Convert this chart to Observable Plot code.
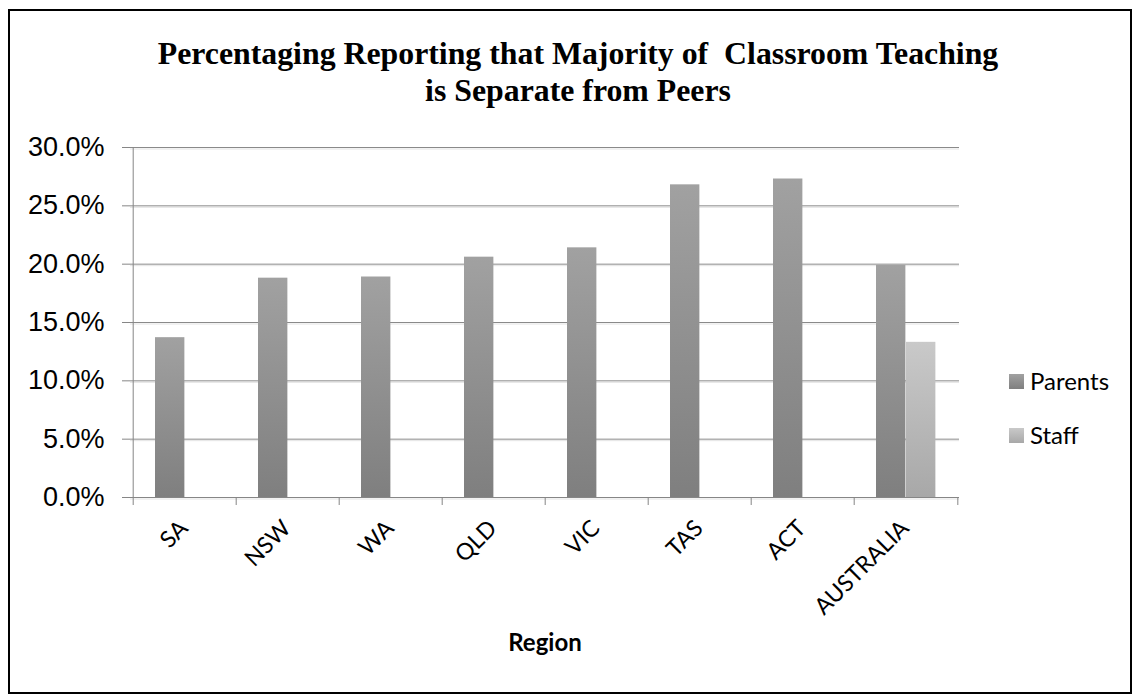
<!DOCTYPE html>
<html>
<head>
<meta charset="utf-8">
<script src="https://cdn.jsdelivr.net/npm/d3@7"></script>
<script src="https://cdn.jsdelivr.net/npm/@observablehq/plot@0.6"></script>
<style>
  html, body { margin: 0; padding: 0; background: #fff; }
  #wrap { position: relative; width: 1138px; height: 700px; overflow: hidden; background: #fff; }
  #border { position: absolute; left: 8px; top: 9px; width: 1124px; height: 685px; border: 2px solid #000; box-sizing: border-box; pointer-events: none; }
  #title { position: absolute; left: 20px; width: 1116px; top: 35px; text-align: center;
           font-family: "Liberation Serif", "Times New Roman", serif; font-weight: bold; font-size: 31.8px; line-height: 37px; color: #000; white-space: pre; }
  #chart { position: absolute; left: 0; top: 0; }
  .leg-sw { position: absolute; width: 15px; height: 15px; }
  .leg-tx { position: absolute; font-family: Lato, "Open Sans", sans-serif; font-size: 24px; line-height: 30px; color: #000; }
</style>
</head>
<body>
<div id="wrap">
  <div id="title"></div>
  <div id="chart"></div>
  <div id="legend"></div>
  <div id="border"></div>
</div>
<script>
// ---- data ----
const titleLines = ["Percentaging Reporting that Majority of  Classroom Teaching", "is Separate from Peers"];
const regions = ["SA", "NSW", "WA", "QLD", "VIC", "TAS", "ACT", "AUSTRALIA"];
const parentsValues = [13.7, 18.8, 18.9, 20.6, 21.4, 26.8, 27.3, 19.9];
const staffRegions = ["AUSTRALIA"];
const staffValues = [13.3];
const seriesNames = ["Parents", "Staff"];
const yTicks = [0, 5, 10, 15, 20, 25, 30];
const xTitle = "Region";

// ---- layout ----
const W = 1138, H = 700;
const mL = 130, mR = 179, mT = 147, mB = 203;
const step = (W - mL - mR) / regions.length;
const barW = 30, offL = 22;
const axisColor = "#868686";

const parentsData = regions.map((r, i) => ({region: r, value: parentsValues[i]}));
const staffData = staffRegions.map((r, i) => ({region: r, value: staffValues[i]}));

document.getElementById("title").textContent = titleLines.join("\n");

const plot = Plot.plot({
  width: W, height: H,
  marginLeft: mL, marginRight: mR, marginTop: mT, marginBottom: mB,
  style: {background: "transparent", color: "#000", overflow: "visible"},
  x: {domain: regions, padding: 0, axis: null},
  y: {domain: [0, 30], axis: null},
  marks: [
    Plot.gridY(yTicks, {stroke: "#e4e4e4", strokeOpacity: 1, dy: 1.5}),
    Plot.gridY(yTicks, {stroke: "#8a8a8a", strokeOpacity: 1}),
    Plot.barY(parentsData, {x: "region", y: "value", fill: "url(#gParents)", insetLeft: offL, insetRight: step - offL - barW}),
    Plot.barY(staffData, {x: "region", y: "value", fill: "url(#gStaff)", insetLeft: offL + barW, insetRight: step - offL - 2 * barW}),
    Plot.ruleY([0], {stroke: axisColor}),
    Plot.ruleX([regions[0]], {dx: -step / 2, stroke: axisColor}),
    Plot.axisY(yTicks, {tickSize: 8, tickPadding: 18, tickFormat: d => d.toFixed(1) + "%", fontSize: 27,
      fontFamily: "'Liberation Sans', Arial, sans-serif", stroke: axisColor, fill: "#000", label: null}),
    Plot.axisX(regions, {tickSize: 8, dx: -step / 2, tickFormat: () => "", stroke: axisColor, label: null}),
    Plot.axisX([regions[regions.length - 1]], {tickSize: 8, dx: step / 2, tickFormat: () => "", stroke: axisColor, label: null}),
    Plot.axisX(regions, {tickSize: 0, tickRotate: -45, tickPadding: 27, dx: -1, fontSize: 23,
      fontFamily: "Lato, 'Open Sans', sans-serif", fill: "#000", label: null}),
    Plot.text([xTitle], {text: d => d, frameAnchor: "bottom", dy: 153, fontSize: 24, fontWeight: "bold",
      fontFamily: "Lato, 'Open Sans', sans-serif", fill: "#000"})
  ]
});

// gradients for bars
const svg = d3.select(plot);
const defs = svg.insert("defs", ":first-child");
const grads = [
  {id: "gParents", top: "#a1a1a1", bottom: "#7f7f7f"},
  {id: "gStaff", top: "#c9c9c9", bottom: "#a8a8a8"}
];
for (const g of grads) {
  const lg = defs.append("linearGradient").attr("id", g.id).attr("x1", 0).attr("y1", 0).attr("x2", 0).attr("y2", 1);
  lg.append("stop").attr("offset", "0%").attr("stop-color", g.top);
  lg.append("stop").attr("offset", "100%").attr("stop-color", g.bottom);
}
document.getElementById("chart").appendChild(plot);

// legend
const legend = document.getElementById("legend");
const legTops = [374, 428];
seriesNames.forEach((name, i) => {
  const sw = document.createElement("div");
  sw.className = "leg-sw";
  sw.style.left = "1009px";
  sw.style.top = legTops[i] + "px";
  sw.style.background = `linear-gradient(${grads[i].top}, ${grads[i].bottom})`;
  legend.appendChild(sw);
  const tx = document.createElement("div");
  tx.className = "leg-tx";
  tx.style.left = "1030px";
  tx.style.top = (legTops[i] - 8) + "px";
  tx.textContent = name;
  legend.appendChild(tx);
});
</script>
</body>
</html>
